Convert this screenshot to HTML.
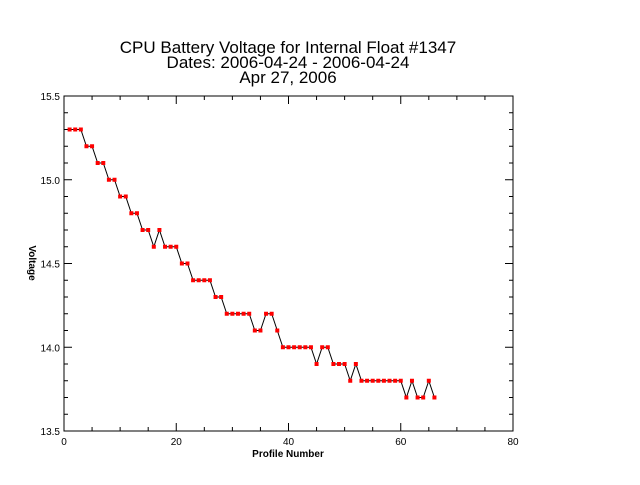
<!DOCTYPE html>
<html><head><meta charset="utf-8"><style>
body{margin:0;background:#fff;}
svg text{font-family:"Liberation Sans",sans-serif;}
</style></head><body>
<svg id="chart" width="640" height="480" xmlns="http://www.w3.org/2000/svg">
<rect width="640" height="480" fill="#fff"/>
<g font-family="Liberation Mono" font-size="17" text-anchor="middle" fill="#000">
<text x="288" y="53">CPU Battery Voltage for Internal Float #1347</text>
<text x="288" y="68">Dates:  2006-04-24 -  2006-04-24</text>
<text x="288" y="83">Apr 27, 2006</text>
</g>
<rect x="64" y="96" width="449" height="335" fill="none" stroke="#000" stroke-width="1"/>
<g id="axes"></g>
<polyline id="line" fill="none" stroke="#000" stroke-width="1"/>
<g id="pts"></g>
<text x="288" y="457" font-size="10" font-weight="bold" font-family="Liberation Serif" text-anchor="middle">Profile Number</text>
<text x="0" y="0" font-size="10" font-weight="bold" font-family="Liberation Serif" text-anchor="middle" transform="translate(29,263) rotate(90)">Voltage</text>
</svg>
<script>
const profiles = [];
for (let i = 1; i <= 66; i++) profiles.push(i);
const voltages = [15.3,15.3,15.3,15.2,15.2,15.1,15.1,15.0,15.0,14.9,14.9,14.8,14.8,14.7,14.7,14.6,14.7,14.6,14.6,14.6,14.5,14.5,14.4,14.4,14.4,14.4,14.3,14.3,14.2,14.2,14.2,14.2,14.2,14.1,14.1,14.2,14.2,14.1,14.0,14.0,14.0,14.0,14.0,14.0,13.9,14.0,14.0,13.9,13.9,13.9,13.8,13.9,13.8,13.8,13.8,13.8,13.8,13.8,13.8,13.8,13.7,13.8,13.7,13.7,13.8,13.7];
const xTicks = [0,20,40,60,80];
const yTicks = [13.5,14.0,14.5,15.0,15.5];
const yTickLabels = ["13.5","14.0","14.5","15.0","15.5"];
const X0=64,X1=513,Y0=431,Y1=96;
const sx=v=>X0+(v-0)/(80-0)*(X1-X0);
const sy=v=>Y0-(v-13.5)/(15.5-13.5)*(Y0-Y1);
const NS="http://www.w3.org/2000/svg";
const axes=document.getElementById('axes');
function ln(x1,y1,x2,y2){const l=document.createElementNS(NS,'line');l.setAttribute('x1',x1);l.setAttribute('y1',y1);l.setAttribute('x2',x2);l.setAttribute('y2',y2);l.setAttribute('stroke','#000');axes.appendChild(l);return l;}
for(let v=0;v<=80;v+=5){const x=sx(v);const len=v%20===0?8:4;
const a=ln(x,Y0,x,Y0-len);
const b=ln(x,Y1,x,Y1+len);}
for(let k=0;k<=20;k++){const v=13.5+k*0.1;const y=sy(v);const len=k%5===0?8:4;
const a=ln(X0,y,X0+len,y);
const b=ln(X1,y,X1-len,y);}
xTicks.forEach(v=>{const t=document.createElementNS(NS,'text');t.setAttribute('x',sx(v));t.setAttribute('y',Y0+14);t.setAttribute('font-size','10');t.setAttribute('text-anchor','middle');t.textContent=v;


axes.appendChild(t);});
yTicks.forEach((v,i)=>{const t=document.createElementNS(NS,'text');t.setAttribute('x',X0-4);t.setAttribute('y',sy(v)+4);t.setAttribute('font-size','10');t.setAttribute('text-anchor','end');t.textContent=yTickLabels[i];


axes.appendChild(t);});
document.getElementById('line').setAttribute('points',profiles.map((p,i)=>sx(p)+','+sy(voltages[i])).join(' '));
const pts=document.getElementById('pts');
profiles.forEach((p,i)=>{const r=document.createElementNS(NS,'rect');r.setAttribute('x',sx(p)-2);r.setAttribute('y',sy(voltages[i])-2);r.setAttribute('width',4);r.setAttribute('height',4);r.setAttribute('fill','#f00');


pts.appendChild(r);});
</script>
</body></html>
